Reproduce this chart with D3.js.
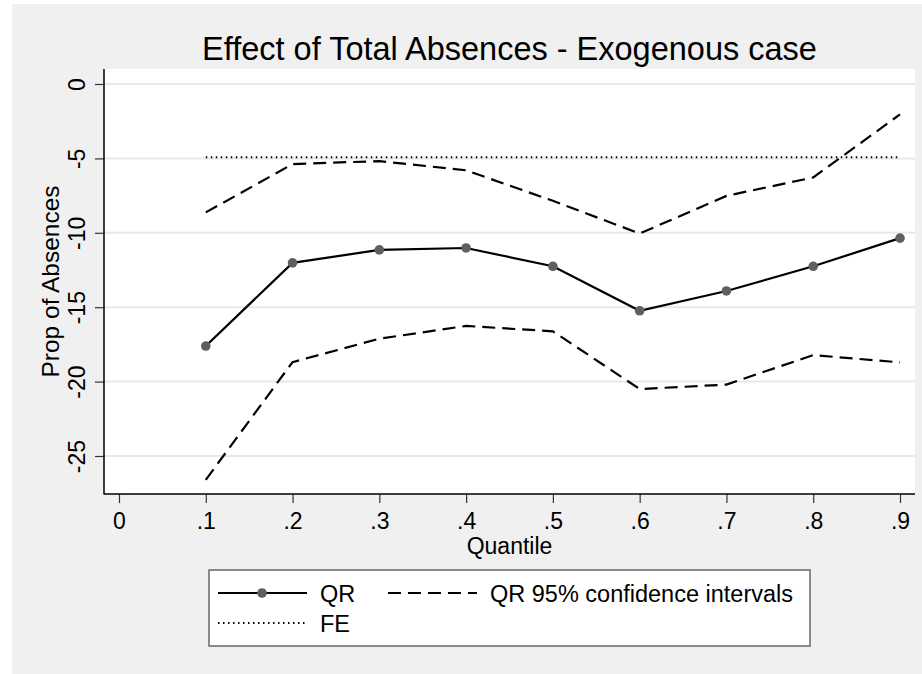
<!DOCTYPE html>
<html>
<head>
<meta charset="utf-8">
<script src="https://cdn.jsdelivr.net/npm/d3@7"></script>
<style>
  body { margin: 0; background: #fff; }
  text { font-family: "Liberation Sans", Arial, sans-serif; fill: #000; }
</style>
</head>
<body>
<div id="chart"></div>
<script>
// values
let quantiles = [0.1, 0.2, 0.3, 0.4, 0.5, 0.6, 0.7, 0.8, 0.9];
let qr      = [-17.61, -12.02, -11.15, -11.02, -12.25, -15.24, -13.91, -12.25, -10.36];
let ciUpper = [-8.63, -5.38, -5.18, -5.80, -7.85, -10.05, -7.52, -6.28, -2.04];
let ciLower = [-26.6, -18.69, -17.12, -16.26, -16.62, -20.5, -20.2, -18.22, -18.71];
let fe      = [-4.93, -4.93, -4.93, -4.93, -4.93, -4.93, -4.93, -4.93, -4.93];

let xTicks = [0, 0.1, 0.2, 0.3, 0.4, 0.5, 0.6, 0.7, 0.8, 0.9];
let xTickLabels = ["0", ".1", ".2", ".3", ".4", ".5", ".6", ".7", ".8", ".9"];
let yTicks = [0, -5, -10, -15, -20, -25];

let W = 922, H = 674;
let plot = { left: 104, right: 915, top: 69, bottom: 494 };

let svg = d3.select("#chart")
  .append("svg")
    .attr("width", W)
    .attr("height", H);

// outer gray panel
svg.append("rect")
  .attr("x", 12).attr("y", 4)
  .attr("width", W - 12).attr("height", H - 4)
  .attr("fill", "#f0f0f0");

// plot region
svg.append("rect")
  .attr("x", plot.left).attr("y", plot.top)
  .attr("width", plot.right - plot.left).attr("height", plot.bottom - plot.top)
  .attr("fill", "#fff");

let x = d3.scaleLinear().domain([0, 0.9]).range([119, 900]);
let y = d3.scaleLinear().domain([0, -25]).range([84, 456]);

// gridlines
svg.append("g")
  .selectAll("line")
  .data(yTicks)
  .enter()
  .append("line")
    .attr("x1", plot.left).attr("x2", plot.right)
    .attr("y1", d => y(d)).attr("y2", d => y(d))
    .attr("stroke", "#e8e8e8")
    .attr("stroke-width", 2);

// y axis
let yAxis = svg.append("g")
  .attr("transform", "translate(" + plot.left + ",0)")
  .call(d3.axisLeft(y).tickValues(yTicks).tickSize(9).tickSizeOuter(0));
yAxis.select(".domain").remove();
yAxis.selectAll(".tick line").attr("stroke", "#333").attr("stroke-width", 1.2);
yAxis.selectAll(".tick text")
  .attr("transform", "rotate(-90)")
  .attr("x", 0)
  .attr("y", -19)
  .attr("dy", 0)
  .attr("text-anchor", "middle")
  .style("font-size", "23px")
  .style("font-family", "Liberation Sans, Arial, sans-serif")
  .text(d => d === 0 ? "0" : "-" + Math.abs(d));

// x axis
let xAxis = svg.append("g")
  .attr("transform", "translate(0," + plot.bottom + ")")
  .call(d3.axisBottom(x).tickValues(xTicks).tickSize(9).tickSizeOuter(0)
    .tickFormat((d, i) => xTickLabels[i]));
xAxis.select(".domain").remove();
xAxis.selectAll(".tick line").attr("stroke", "#333").attr("stroke-width", 1.2);
xAxis.selectAll(".tick text")
  .attr("y", 35)
  .attr("dy", 0)
  .style("font-size", "23px")
  .style("font-family", "Liberation Sans, Arial, sans-serif");

// axis lines
svg.append("line")
  .attr("x1", plot.left).attr("x2", plot.left)
  .attr("y1", plot.top).attr("y2", plot.bottom + 0.5)
  .attr("stroke", "#000").attr("stroke-width", 1.5);
svg.append("line")
  .attr("x1", plot.left).attr("x2", plot.right)
  .attr("y1", plot.bottom).attr("y2", plot.bottom)
  .attr("stroke", "#000").attr("stroke-width", 1.5);

// titles
svg.append("text")
  .attr("x", (plot.left + plot.right) / 2)
  .attr("y", 60)
  .attr("text-anchor", "middle")
  .style("font-size", "32.5px")
  .text("Effect of Total Absences - Exogenous case");

svg.append("text")
  .attr("x", (plot.left + plot.right) / 2)
  .attr("y", 554)
  .attr("text-anchor", "middle")
  .style("font-size", "23px")
  .text("Quantile");

svg.append("text")
  .attr("transform", "translate(59," + (plot.top + plot.bottom) / 2 + ") rotate(-90)")
  .attr("text-anchor", "middle")
  .style("font-size", "24.5px")
  .text("Prop of Absences");

// series
let line = d3.line()
  .x(d => x(d[0]))
  .y(d => y(d[1]));

let pairs = arr => quantiles.map((q, i) => [q, arr[i]]);

svg.append("path")
  .datum(pairs(fe))
  .attr("d", line)
  .attr("fill", "none")
  .attr("stroke", "#000")
  .attr("stroke-width", 2)
  .attr("stroke-dasharray", "1.5,3.5");

[ciUpper, ciLower].forEach(function(s) {
  svg.append("path")
    .datum(pairs(s))
    .attr("d", line)
    .attr("fill", "none")
    .attr("stroke", "#000")
    .attr("stroke-width", 2.2)
    .attr("stroke-dasharray", "13,7");
});

svg.append("path")
  .datum(pairs(qr))
  .attr("d", line)
  .attr("fill", "none")
  .attr("stroke", "#000")
  .attr("stroke-width", 2.2);

svg.append("g")
  .selectAll("circle")
  .data(pairs(qr))
  .enter()
  .append("circle")
    .attr("cx", d => x(d[0]))
    .attr("cy", d => y(d[1]))
    .attr("r", 4.8)
    .attr("fill", "#5f5f5f");

// legend
let lg = svg.append("g");
lg.append("rect")
  .attr("x", 209).attr("y", 570)
  .attr("width", 601).attr("height", 76)
  .attr("fill", "#fff")
  .attr("stroke", "#666")
  .attr("stroke-width", 1.5);

let keys = [
  { label: "QR", x: 218, y: 593, dash: null, marker: true },
  { label: "QR 95% confidence intervals", x: 388, y: 593, dash: "13,7", marker: false },
  { label: "FE", x: 218, y: 623, dash: "1.5,3.5", marker: false }
];

let item = lg.selectAll("g.item")
  .data(keys)
  .enter()
  .append("g")
    .attr("class", "item")
    .attr("transform", d => "translate(" + d.x + "," + d.y + ")");

item.append("line")
  .attr("x1", 0).attr("x2", 89)
  .attr("y1", 0).attr("y2", 0)
  .attr("stroke", "#000")
  .attr("stroke-width", 2.2)
  .attr("stroke-dasharray", d => d.dash);

item.filter(d => d.marker)
  .append("circle")
    .attr("cx", 44).attr("cy", 0)
    .attr("r", 4.8)
    .attr("fill", "#5f5f5f");

item.append("text")
  .attr("x", 102)
  .attr("y", 8.5)
  .style("font-size", "23.5px")
  .text(d => d.label);
</script>
</body>
</html>
